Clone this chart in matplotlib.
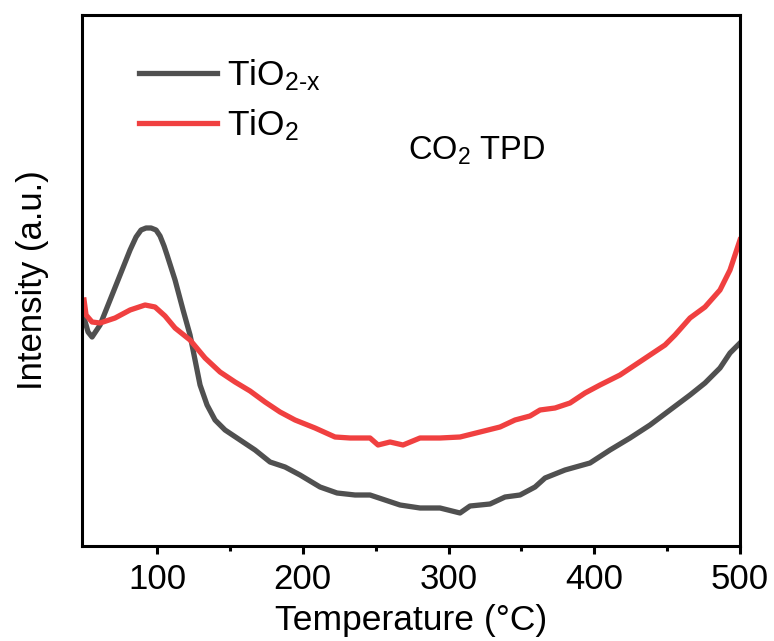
import matplotlib
matplotlib.use("Agg")
import matplotlib.pyplot as plt

plt.rcParams['font.family'] = ['Liberation Sans', 'DejaVu Sans']
plt.rcParams['mathtext.fontset'] = 'custom'
plt.rcParams['mathtext.rm'] = 'Liberation Sans'
plt.rcParams['mathtext.it'] = 'Liberation Sans'

# values (pixel positions, mapped to data below)
tiox_px = [84, 88, 92, 100, 110, 120, 130, 136, 141, 146, 151, 156, 160, 164, 167, 175, 183, 190,
           195, 200, 207, 215, 225, 240, 255, 270, 285, 300, 320, 337, 355, 370, 385, 400, 420,
           440, 460, 470, 490, 505, 520, 535, 545, 565, 590, 610, 630, 650, 670, 690, 705, 720,
           730, 740]
tiox_py = [318, 332, 337, 325, 300, 275, 250, 237, 230, 228, 228, 230, 236, 246, 255, 280, 310,
           335, 360, 385, 405, 420, 430, 440, 450, 462, 467, 475, 487, 493, 495, 495, 500, 505,
           508, 508, 513, 506, 504, 497, 495, 487, 478, 470, 463, 450, 438, 425, 410, 395, 383,
           368, 353, 343]
tio2_px = [84, 86, 92, 100, 115, 130, 145, 155, 165, 175, 190, 205, 220, 235, 250, 265, 280,
           295, 315, 335, 350, 370, 378, 390, 403, 420, 440, 460, 480, 500, 515, 530, 540,
           555, 570, 585, 600, 620, 635, 650, 665, 675, 690, 705, 720, 730, 740]
tio2_py = [300, 315, 322, 323, 318, 310, 305, 307, 316, 328, 340, 358, 372, 382, 391, 402, 412,
           420, 428, 437, 438, 438, 445, 442, 445, 438, 438, 437, 432, 427, 420, 416, 410,
           408, 403, 393, 385, 375, 365, 355, 345, 335, 318, 307, 290, 270, 240]

temp_tiox = [100 + (p - 157) / 1.4575 for p in tiox_px]
int_tiox = [546 - p for p in tiox_py]
temp_tio2 = [100 + (p - 157) / 1.4575 for p in tio2_px]
int_tio2 = [546 - p for p in tio2_py]

xticks = [100, 200, 300, 400, 500]
minor_ticks = [150, 250, 350, 450]

fig = plt.figure(figsize=(7.74, 6.41), dpi=100)
ax = fig.add_axes([82/774, 95/641, (740-82)/774, (546-15)/641])
ax.plot(temp_tiox, int_tiox, color='#505050', lw=3.8, label=r'TiO$_\mathregular{2\text{-}x}$')
ax.plot(temp_tio2, int_tio2, color='#f04040', lw=3.8, label=r'TiO$_\mathregular{2}$')
ax.set_xlim(48.5, 500)
ax.set_ylim(0, 531)
ax.set_xticks(xticks)
ax.set_xticks(minor_ticks, minor=True)
ax.set_yticks([])
for s in ax.spines.values():
    s.set_linewidth(2.2)
ax.tick_params(axis='x', which='major', length=6, width=2.2, labelsize=25, direction='out', pad=6)
ax.tick_params(axis='x', which='minor', length=3.5, width=2.2, direction='out')
ax.set_xlabel('Temperature (°C)', fontsize=25.5, labelpad=6)
ax.set_ylabel('Intensity (a.u.)', fontsize=25, labelpad=24)
ax.text(0.60, 0.745, r'CO$_\mathregular{2}$ TPD', transform=ax.transAxes, fontsize=23.5,
        ha='center', va='center')
ax.legend(loc='upper left', bbox_to_anchor=(0.038, 0.981), frameon=False, fontsize=25.5,
          handlelength=2.2, handletextpad=0.28, labelspacing=0.42)
fig.savefig('out.png', dpi=100)
